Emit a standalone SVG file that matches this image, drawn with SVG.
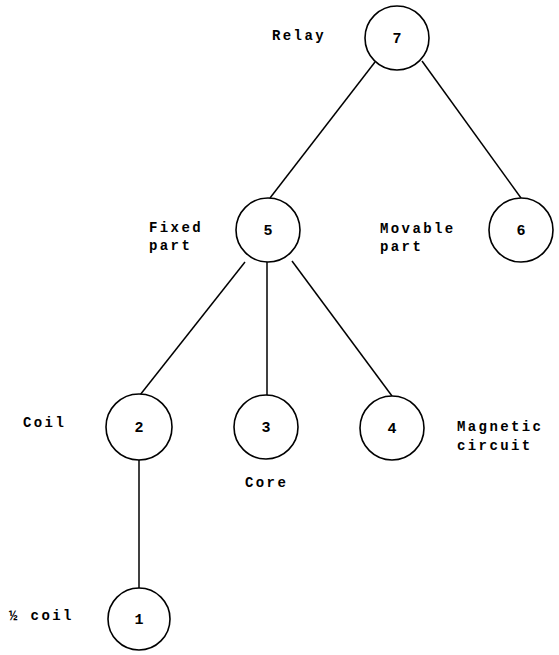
<svg xmlns="http://www.w3.org/2000/svg" width="559" height="655" viewBox="0 0 559 655">
<style>
.n circle{fill:#fff;stroke:#000;stroke-width:1.6}
.num{font-family:"Liberation Mono","DejaVu Sans Mono",monospace;font-size:15px;font-weight:bold;text-anchor:middle;fill:#000}
.lbl{font-family:"Liberation Mono","DejaVu Sans Mono",monospace;font-size:14px;font-weight:bold;letter-spacing:2.4px;fill:#000}
#edges line{stroke:#000;stroke-width:1.5}
</style>
<rect width="559" height="655" fill="#fff"/>
<g id="edges">
<line x1="375" y1="62" x2="270" y2="198"/>
<line x1="422" y1="61" x2="521" y2="198"/>
<line x1="245" y1="262" x2="140" y2="395"/>
<line x1="267" y1="262" x2="267" y2="395"/>
<line x1="292" y1="261" x2="392" y2="396"/>
<line x1="139" y1="459" x2="139" y2="588"/>
</g>
<g id="n7" class="n"><circle cx="397" cy="38" r="32"/><text class="num" x="397" y="43">7</text><text class="lbl" x="272" y="40">Relay</text></g>
<g id="n5" class="n"><circle cx="268" cy="230" r="32"/><text class="num" x="268" y="235">5</text><text class="lbl" x="149" y="232">Fixed</text><text class="lbl" x="149" y="250">part</text></g>
<g id="n6" class="n"><circle cx="521" cy="230" r="32"/><text class="num" x="521" y="235">6</text><text class="lbl" x="380" y="233">Movable</text><text class="lbl" x="380" y="251">part</text></g>
<g id="n2" class="n"><circle cx="139" cy="427" r="33"/><text class="num" x="139" y="432">2</text><text class="lbl" x="23" y="427">Coil</text></g>
<g id="n3" class="n"><circle cx="266" cy="427" r="32"/><text class="num" x="266" y="432">3</text><text class="lbl" x="245" y="487">Core</text></g>
<g id="n4" class="n"><circle cx="392" cy="428" r="32"/><text class="num" x="392" y="433">4</text><text class="lbl" x="457" y="431">Magnetic</text><text class="lbl" x="457" y="450">circuit</text></g>
<g id="n1" class="n"><circle cx="139" cy="619" r="31"/><text class="num" x="139" y="624">1</text><text class="lbl" x="9" y="620">½ coil</text></g>
</svg>
